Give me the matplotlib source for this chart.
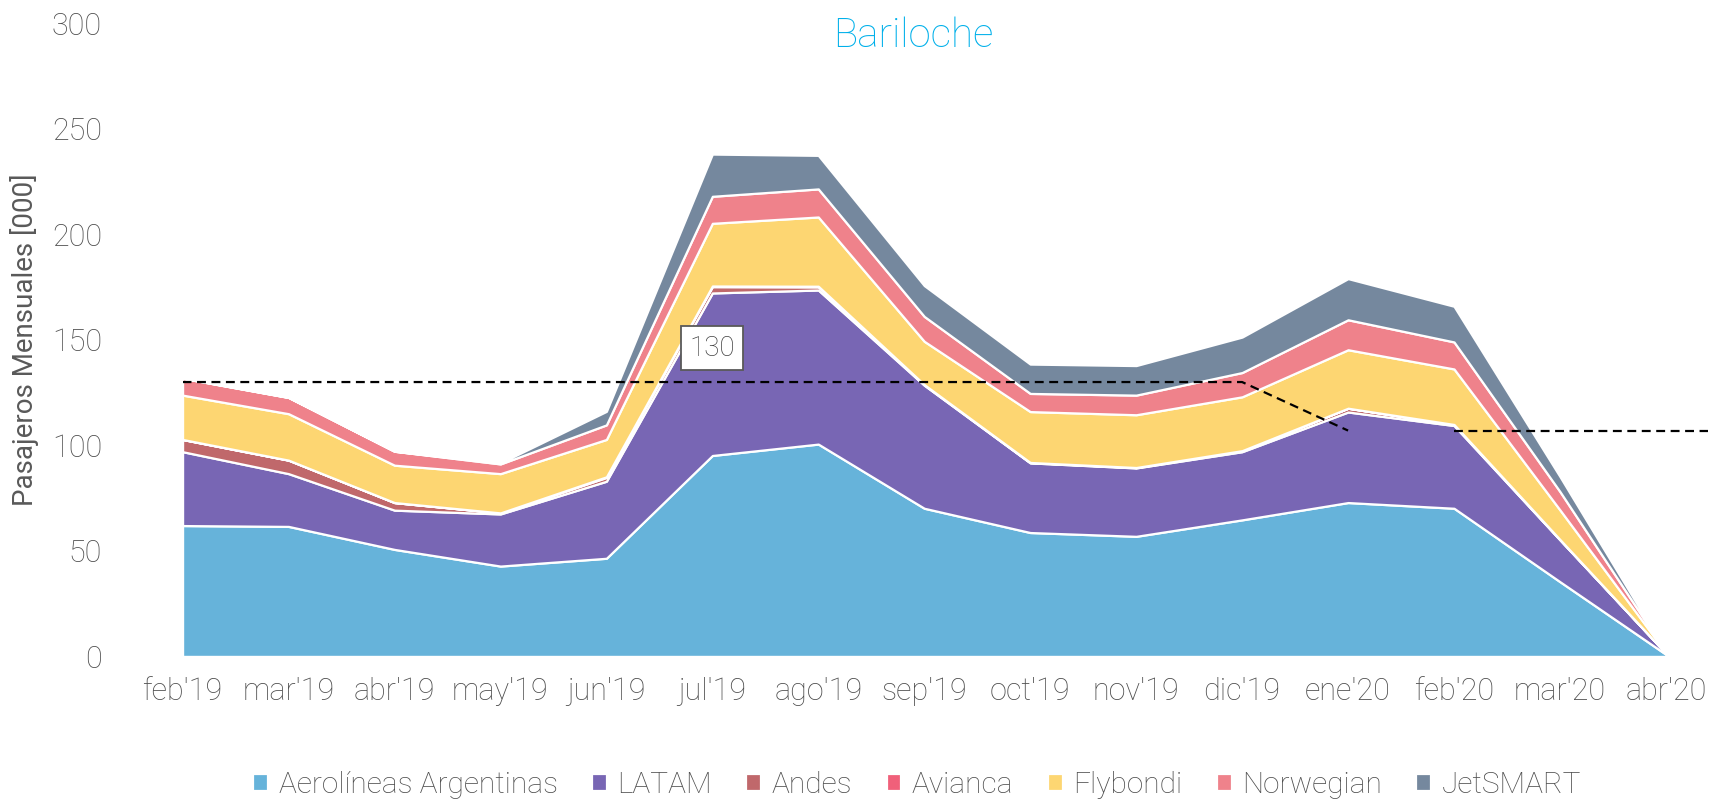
import matplotlib

matplotlib.use("Agg")
import matplotlib.pyplot as plt

plt.rcParams["font.family"] = ["Roboto", "DejaVu Sans"]
plt.rcParams["font.weight"] = "light"

MONTHS = ["feb'19", "mar'19", "abr'19", "may'19", "jun'19", "jul'19", "ago'19",
          "sep'19", "oct'19", "nov'19", "dic'19", "ene'20", "feb'20", "mar'20", "abr'20"]

AEROLINEAS = [62, 61.6, 50.7, 42.8, 46.5, 95.2, 100.6, 70.2, 58.7, 56.9, 64.7, 72.9, 70.2, 35.4, 1]
LATAM = [35, 25, 18.6, 24.7, 36.5, 77, 73, 58.3, 33, 32.4, 32.3, 42.9, 39.2, 19.8, 0.5]
ANDES = [5.8, 6.4, 3.6, 0.5, 1.8, 3, 1.5, 0.3, 0.2, 0.2, 0.5, 1.8, 0.5, 0.2, 0]
AVIANCA = [0, 0, 0, 0, 0.3, 0.3, 0.3, 0, 0, 0, 0, 0, 0, 0, 0]
FLYBONDI = [21, 22, 17.7, 18.6, 17.7, 29.7, 32.8, 20.5, 24.1, 25, 25.5, 27.7, 26.3, 14, 0.3]
NORWEGIAN = [8, 7.7, 6.6, 4.6, 6.9, 12.8, 13.3, 11.8, 8.6, 9.3, 11.5, 14.2, 12.8, 8.7, 0.2]
JETSMART = [0, 0, 0, 0.5, 6.4, 20, 15.9, 14.6, 13.9, 14, 16.8, 19.5, 16.9, 7.1, 0.2]

SERIES_NAMES = ["Aerolíneas Argentinas", "LATAM", "Andes", "Avianca",
                "Flybondi", "Norwegian", "JetSMART"]
COLORS = ["#66b3da", "#7866b4", "#c0686b", "#f0607a", "#fdd672", "#ef828b", "#75889e"]

# reference averages (dashed lines)
REF_2019 = 130
REF_2020 = 107
REF_LABEL = "130"

GREY = "#4d4d4d"


def main() -> None:
    fig = plt.figure(figsize=(17.24, 8.01), dpi=100)
    ax = fig.add_axes([0.1059, 0.1805, 0.885, 0.7905])

    x = list(range(len(MONTHS)))
    ax.stackplot(
        x, AEROLINEAS, LATAM, ANDES, AVIANCA, FLYBONDI, NORWEGIAN, JETSMART,
        colors=COLORS, labels=SERIES_NAMES, edgecolor="white", linewidth=1.6,
    )

    # dashed reference: 2019 average, then drop to 2020 value
    ref_x = list(range(12))
    ref_y = [REF_2019] * 11 + [REF_2020]
    ax.plot(ref_x, ref_y, color="black", ls=(0, (4, 2.5)), lw=1.6, zorder=5)
    ax.plot([12, 14.4], [REF_2020, REF_2020], color="black", ls=(0, (4, 2.5)),
            lw=1.6, zorder=5, clip_on=False)

    ax.text(5, 146, REF_LABEL, ha="center", va="center", fontsize=20, color="#404040",
            bbox=dict(boxstyle="square,pad=0.3", fc="white", ec="#595959", lw=1.3), zorder=6)

    ax.set_xlim(0, 14.4)
    ax.set_ylim(0, 300)
    ax.set_yticks(range(0, 301, 50))
    ax.set_xticks(x)
    ax.set_xticklabels(MONTHS)
    ax.tick_params(axis="y", length=0, pad=58, labelsize=22, labelcolor=GREY)
    ax.tick_params(axis="x", length=0, pad=15, labelsize=22, labelcolor=GREY)
    for lbl in ax.get_yticklabels():
        lbl.set_horizontalalignment("right")
    for spine in ax.spines.values():
        spine.set_visible(False)

    ax.set_ylabel("Pasajeros Mensuales [000]", fontsize=20, color="#595959",
                  fontweight="normal")
    ax.yaxis.set_label_coords(-0.094, 0.5)

    fig.text(0.530, 0.955, "Bariloche", ha="center", va="center",
             fontsize=29, color="#00b0ea")

    fig.legend(
        *ax.get_legend_handles_labels(), loc="center", bbox_to_anchor=(0.532, 0.02),
        ncol=7, frameon=False, fontsize=21.5, labelcolor=GREY,
        handlelength=0.5, handleheight=0.5, handletextpad=0.35, columnspacing=1.15,
    )

    fig.savefig("out.png", dpi=100)
    plt.close(fig)


if __name__ == "__main__":
    main()
